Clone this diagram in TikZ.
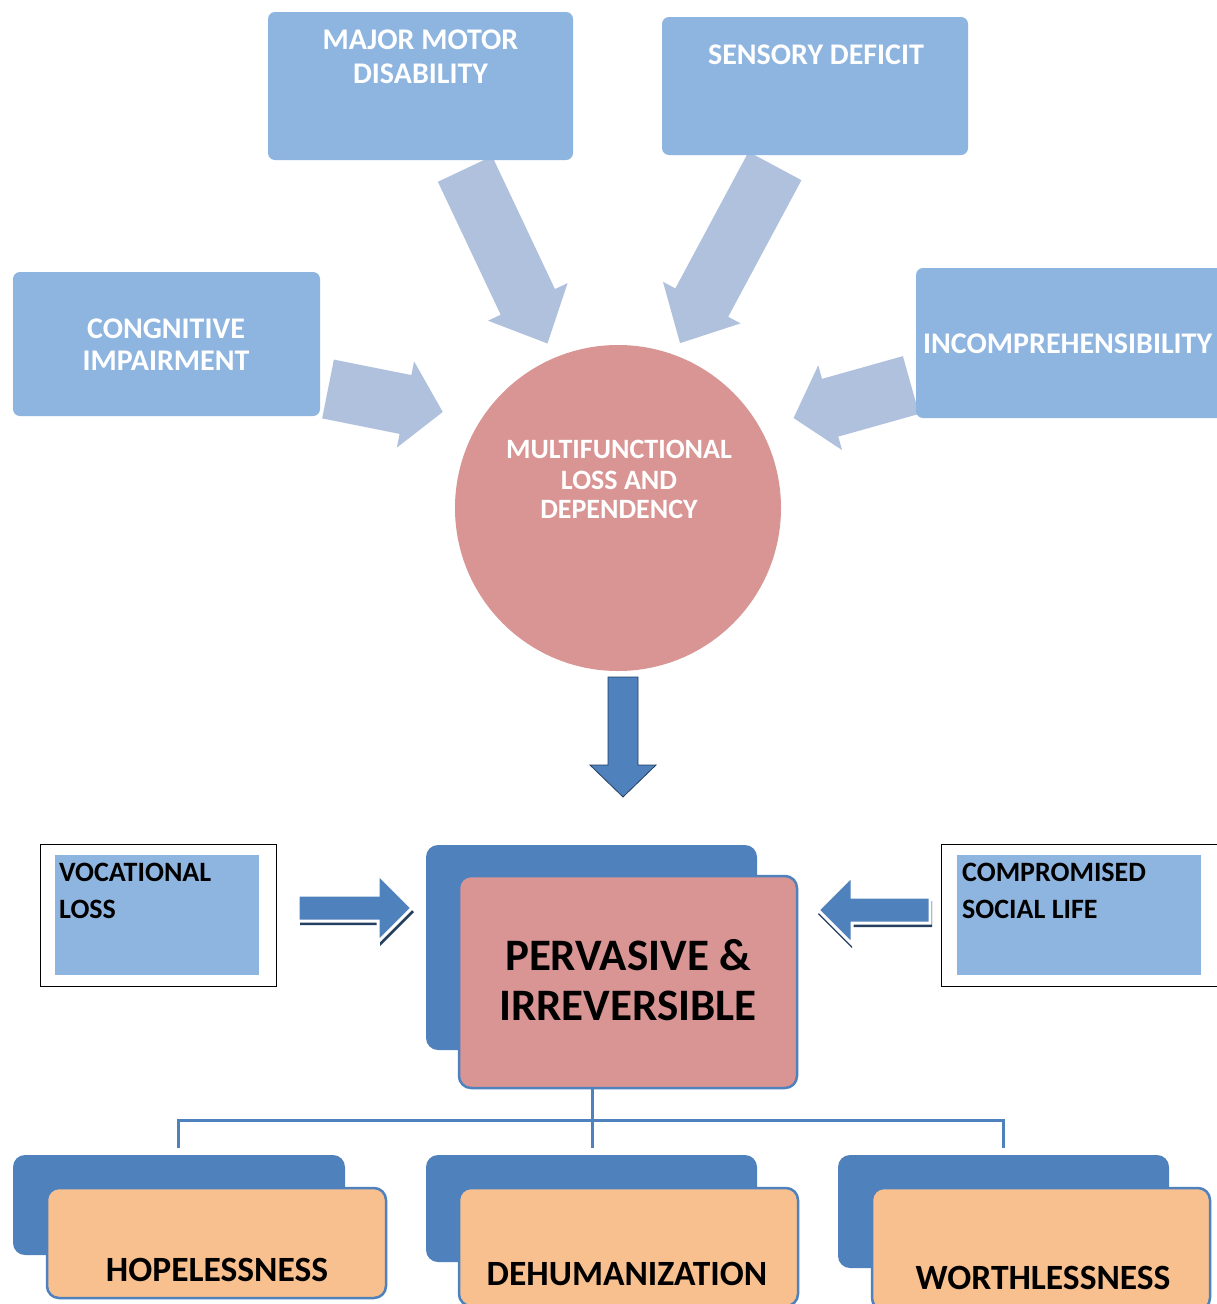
\documentclass[tikz,border=0pt]{standalone}
\usepackage{fontspec}
\setmainfont{Carlito}
\begin{document}
\begin{tikzpicture}[x=1pt,y=-1pt,
  lbox/.style={draw=none,fill=boxblue,rounded corners=7pt,inner sep=0pt},
  wtxt/.style={text=white,font=\bfseries\fontsize{30}{36}\selectfont,inner sep=0pt,anchor=base},
  ctxt/.style={text=white,font=\bfseries\fontsize{28}{34}\selectfont,inner sep=0pt,anchor=base},
  btxt/.style={text=black,font=\bfseries\fontsize{28}{34}\selectfont,inner sep=0pt,anchor=base west},
  ptxt/.style={text=black,font=\bfseries\fontsize{45}{54}\selectfont,inner sep=0pt,anchor=base},
  otxt/.style={text=black,font=\bfseries\fontsize{35.5}{42}\selectfont,inner sep=0pt,anchor=base},
  backbox/.style={fill=darkblue,rounded corners=12pt,inner sep=0pt},
  frontbox/.style={draw=darkblue,line width=2.5pt,rounded corners=12pt,inner sep=0pt},
  lightarrow/.style={fill=arrowlight},
  tree/.style={draw=darkblue,line width=3pt}]
\definecolor{boxblue}{HTML}{8EB4E0}
\definecolor{arrowlight}{HTML}{AFC1DD}
\definecolor{pinkfill}{HTML}{D99594}
\definecolor{darkblue}{HTML}{4F81BD}
\definecolor{orangefill}{HTML}{F8BF8F}
\definecolor{shadowblue}{HTML}{243F60}
\newcommand\blkarrow[7]{%
  \begin{scope}[shift={(#2)},rotate=#3]
  \path[#1] (0,-#5) -- ({#4-#7},-#5) -- ({#4-#7},-#6) -- (#4,0) -- ({#4-#7},#6) -- ({#4-#7},#5) -- (0,#5) -- cycle;
  \end{scope}}
\useasboundingbox (0,0) rectangle (1216,1304);
\fill[white] (0,0) rectangle (1216,1304);

% light arrows
\blkarrow{lightarrow}{465,169}{-64.7}{193}{30}{44}{46}
\blkarrow{lightarrow}{775,166}{-118.2}{201}{30}{44}{46}
\blkarrow{lightarrow}{328,389}{-11.3}{117}{30}{44}{38}
\blkarrow{lightarrow}{911,385}{-164.3}{122}{30}{44}{38}

% top boxes
\node[lbox,minimum width=305pt,minimum height=148pt] (motor) at (420.5,86) {};
\node[wtxt] (motorT) at (420.5,49) {MAJOR MOTOR};
\node[wtxt] (motorT2) at (420.5,83) {DISABILITY};
\node[lbox,minimum width=306pt,minimum height=138pt] (sensory) at (815,86) {};
\node[wtxt] (sensoryT) at (816,64) {SENSORY DEFICIT};
\node[lbox,minimum width=307pt,minimum height=144pt] (cogn) at (166.5,344) {};
\node[wtxt] (cognT) at (166,338) {CONGNITIVE};
\node[wtxt] (cognT2) at (166,370) {IMPAIRMENT};
\node[lbox,minimum width=330pt,minimum height=150pt] (incomp) at (1081,343) {};
\node[wtxt,anchor=base west] (incompT) at (923,353) {INCOMPREHENSIBILITY};

% circle
\node[circle,fill=pinkfill,minimum size=326pt,inner sep=0pt] (multi) at (618,508) {};
\node[ctxt] (multiT) at (619,458) {MULTIFUNCTIONAL};
\node[ctxt] (multiT2) at (619,489) {LOSS AND};
\node[ctxt] (multiT3) at (619,518) {DEPENDENCY};

% dark down arrow
\blkarrow{fill=darkblue,draw=shadowblue,line width=0.8pt}{623,677}{-90}{120}{15}{33}{32}

% side boxes
\node[draw=black,line width=1pt,fill=white,minimum width=236pt,minimum height=142pt,inner sep=0pt] (vocF) at (158,915) {};
\node[fill=boxblue,minimum width=204pt,minimum height=120pt,inner sep=0pt] (voc) at (157,915) {};
\node[btxt] (vocT) at (59,881) {VOCATIONAL};
\node[btxt] (vocT2) at (59,918) {LOSS};
\node[draw=black,line width=1pt,fill=white,minimum width=276pt,minimum height=142pt,inner sep=0pt] (compF) at (1079,915) {};
\node[fill=boxblue,minimum width=244pt,minimum height=120pt,inner sep=0pt] (comp) at (1079,915) {};
\node[btxt] (compT) at (962,881) {COMPROMISED};
\node[btxt] (compT2) at (962,918) {SOCIAL LIFE};

% side arrows
\blkarrow{fill=shadowblue}{300,912}{0}{114}{13}{34}{34}
\blkarrow{fill=darkblue,draw=white,line width=3pt}{298,908}{0}{114}{13}{34}{34}
\blkarrow{fill=shadowblue}{932,914}{180}{114}{13}{34}{34}
\blkarrow{fill=darkblue,draw=white,line width=3pt}{930,910}{180}{112}{13}{34}{34}

% pervasive
\node[backbox,minimum width=331pt,minimum height=205pt] (pback) at (591.5,947.5) {};
\node[frontbox,fill=pinkfill,minimum width=338pt,minimum height=212pt] (pfront) at (628,982) {};
\node[ptxt] (pT) at (628,970) {PERVASIVE \&};
\node[ptxt] (pT2) at (628,1020) {IRREVERSIBLE};

% tree
\coordinate (j) at (592,1120);
\coordinate (jl) at (178,1120);
\coordinate (jr) at (1003,1120);
\draw[tree] (592,1088) -- (j);
\draw[tree] (178,1148) -- (jl) -- (jr) -- (1003,1148);
\draw[tree] (j) -- (592,1148);

% bottom boxes
\node[backbox,minimum width=332pt,minimum height=100pt] (hback) at (179,1205) {};
\node[frontbox,fill=orangefill,minimum width=339pt,minimum height=110pt] (hfront) at (216.5,1243) {};
\node[otxt] (hT) at (217,1281) {HOPELESSNESS};
\node[backbox,minimum width=331pt,minimum height=107pt] (dback) at (591.5,1208.5) {};
\node[frontbox,fill=orangefill,minimum width=339pt,minimum height=118pt] (dfront) at (628.5,1247) {};
\node[otxt] (dT) at (627,1285) {DEHUMANIZATION};
\node[backbox,minimum width=331pt,minimum height=113pt] (wback) at (1003.5,1211.5) {};
\node[frontbox,fill=orangefill,minimum width=338pt,minimum height=122pt] (wfront) at (1041,1249) {};
\node[otxt] (wT) at (1043,1289) {WORTHLESSNESS};
\end{tikzpicture}
\end{document}
